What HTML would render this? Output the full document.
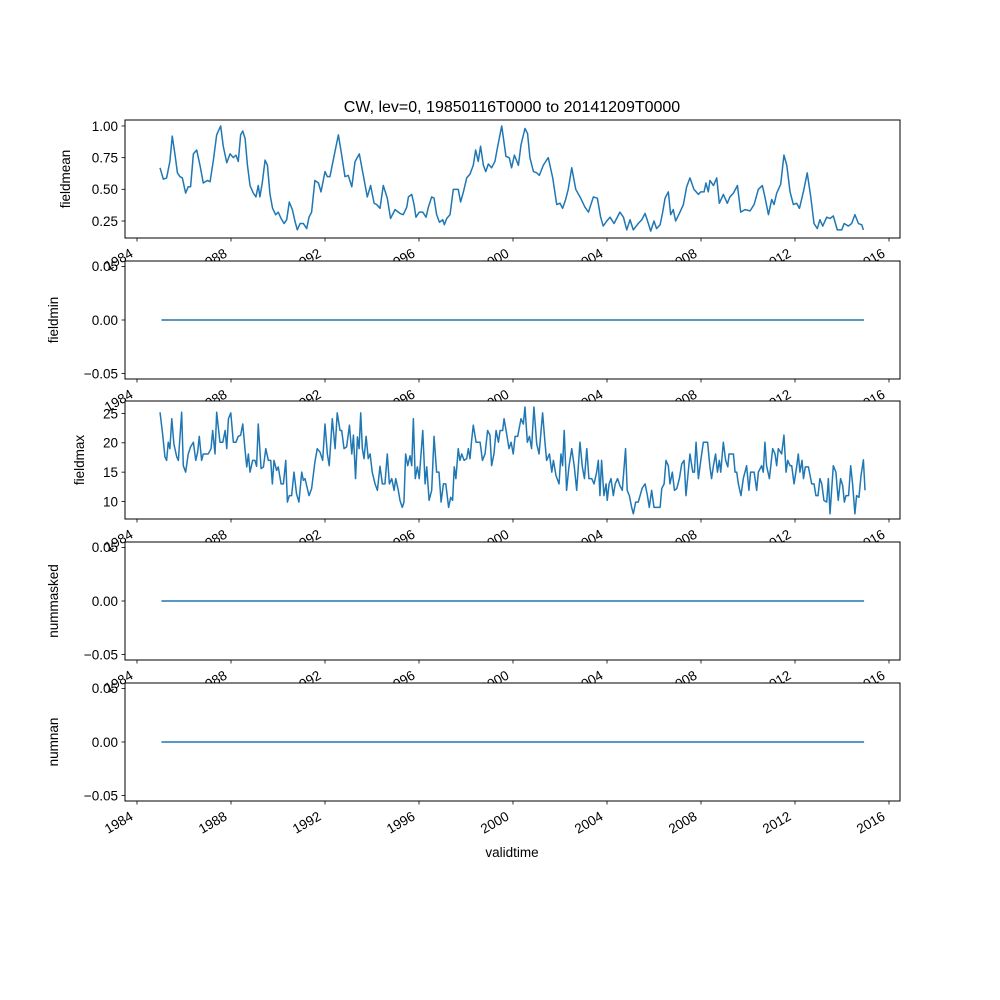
<!DOCTYPE html>
<html><head><meta charset="utf-8"><style>
html,body{margin:0;padding:0;background:#fff;}
svg{display:block;font-family:"Liberation Sans","DejaVu Sans",sans-serif;}
</style></head><body>
<svg id="fig" width="1000" height="1000" viewBox="0 0 1000 1000">
<rect width="1000" height="1000" fill="#fff"/>
<text x="512" y="112" font-size="16" text-anchor="middle">CW, lev=0, 19850116T0000 to 20141209T0000</text>
<text x="512" y="857" font-size="13.5" text-anchor="middle">validtime</text>
</svg>
<script>
// ---- data ----
const meanDates=[1984.98,1985.12,1985.26,1985.40,1985.50,1985.62,1985.72,1985.83,1985.93,1986.07,1986.18,1986.28,1986.40,1986.54,1986.68,1986.82,1986.99,1987.11,1987.25,1987.39,1987.56,1987.67,1987.82,1987.96,1988.10,1988.21,1988.31,1988.41,1988.50,1988.60,1988.70,1988.81,1988.95,1989.06,1989.16,1989.23,1989.33,1989.45,1989.55,1989.66,1989.77,1989.90,1990.01,1990.13,1990.26,1990.37,1990.48,1990.61,1990.72,1990.82,1990.94,1991.08,1991.22,1991.32,1991.43,1991.57,1991.72,1991.83,1992.00,1992.10,1992.21,1992.35,1992.57,1992.71,1992.85,1992.99,1993.14,1993.28,1993.46,1993.63,1993.80,1993.94,1994.09,1994.20,1994.34,1994.48,1994.65,1994.79,1994.98,1995.19,1995.33,1995.48,1995.55,1995.69,1995.79,1995.87,1996.01,1996.16,1996.30,1996.40,1996.54,1996.64,1996.75,1996.87,1997.01,1997.08,1997.18,1997.32,1997.46,1997.67,1997.77,1997.89,1998.03,1998.17,1998.31,1998.41,1998.52,1998.62,1998.74,1998.84,1998.95,1999.09,1999.23,1999.33,1999.52,1999.70,1999.84,1999.94,2000.06,2000.23,2000.34,2000.51,2000.62,2000.72,2000.87,2001.01,2001.12,2001.29,2001.50,2001.69,2001.86,2002.00,2002.11,2002.24,2002.35,2002.50,2002.67,2002.88,2003.06,2003.21,2003.42,2003.59,2003.73,2003.84,2003.99,2004.13,2004.30,2004.55,2004.70,2004.84,2004.98,2005.12,2005.33,2005.48,2005.62,2005.76,2005.86,2006.00,2006.11,2006.26,2006.36,2006.47,2006.61,2006.71,2006.82,2006.92,2007.08,2007.25,2007.39,2007.53,2007.70,2007.89,2007.99,2008.13,2008.21,2008.31,2008.38,2008.53,2008.67,2008.78,2008.95,2009.12,2009.23,2009.38,2009.55,2009.69,2009.87,2010.09,2010.26,2010.44,2010.61,2010.72,2010.87,2011.01,2011.11,2011.22,2011.39,2011.53,2011.65,2011.79,2011.93,2012.07,2012.19,2012.28,2012.38,2012.52,2012.67,2012.81,2012.95,2013.06,2013.18,2013.35,2013.49,2013.63,2013.80,2013.99,2014.09,2014.27,2014.41,2014.55,2014.70,2014.84,2014.91];
const meanValues=[0.67,0.58,0.59,0.72,0.92,0.77,0.63,0.60,0.59,0.47,0.52,0.52,0.78,0.81,0.69,0.55,0.57,0.56,0.73,0.93,1.00,0.84,0.71,0.78,0.75,0.77,0.72,0.93,0.96,0.90,0.69,0.53,0.47,0.44,0.53,0.44,0.55,0.73,0.69,0.46,0.35,0.30,0.32,0.27,0.23,0.26,0.40,0.34,0.25,0.18,0.23,0.23,0.19,0.28,0.32,0.57,0.55,0.48,0.64,0.60,0.60,0.73,0.93,0.77,0.60,0.61,0.52,0.72,0.78,0.61,0.44,0.53,0.39,0.38,0.35,0.53,0.43,0.27,0.34,0.31,0.30,0.36,0.44,0.46,0.38,0.28,0.32,0.32,0.28,0.36,0.44,0.43,0.30,0.24,0.26,0.22,0.27,0.30,0.50,0.50,0.40,0.48,0.59,0.62,0.69,0.81,0.72,0.84,0.69,0.64,0.70,0.67,0.72,0.82,1.00,0.76,0.75,0.67,0.77,0.69,0.85,0.98,0.94,0.75,0.64,0.63,0.61,0.69,0.75,0.59,0.38,0.39,0.35,0.42,0.50,0.67,0.50,0.43,0.36,0.32,0.44,0.43,0.28,0.21,0.25,0.28,0.23,0.32,0.28,0.18,0.26,0.18,0.23,0.26,0.31,0.23,0.17,0.25,0.19,0.22,0.31,0.43,0.48,0.30,0.34,0.25,0.31,0.38,0.52,0.59,0.50,0.46,0.48,0.48,0.55,0.48,0.57,0.53,0.59,0.39,0.46,0.39,0.44,0.47,0.53,0.32,0.34,0.33,0.38,0.50,0.53,0.44,0.30,0.42,0.38,0.47,0.54,0.77,0.69,0.48,0.38,0.39,0.35,0.42,0.50,0.63,0.44,0.23,0.19,0.26,0.21,0.28,0.27,0.29,0.18,0.18,0.23,0.21,0.23,0.30,0.23,0.22,0.18];
const maxDates=[1984.98,1985.09,1985.19,1985.26,1985.33,1985.40,1985.48,1985.57,1985.69,1985.76,1985.90,1985.97,1986.07,1986.18,1986.28,1986.40,1986.50,1986.58,1986.65,1986.75,1986.82,1987.03,1987.15,1987.22,1987.32,1987.39,1987.53,1987.65,1987.75,1987.82,1987.89,1987.99,1988.10,1988.21,1988.31,1988.41,1988.50,1988.60,1988.67,1988.74,1988.81,1988.92,1989.02,1989.09,1989.16,1989.28,1989.38,1989.48,1989.59,1989.69,1989.76,1989.83,1989.94,1990.01,1990.13,1990.23,1990.33,1990.40,1990.48,1990.58,1990.68,1990.79,1990.89,1991.01,1991.08,1991.15,1991.22,1991.32,1991.43,1991.57,1991.67,1991.79,1991.90,1992.00,1992.10,1992.18,1992.31,1992.43,1992.52,1992.64,1992.71,1992.81,1992.92,1993.04,1993.14,1993.21,1993.30,1993.38,1993.45,1993.52,1993.59,1993.66,1993.75,1993.84,1993.92,1994.01,1994.13,1994.23,1994.34,1994.44,1994.55,1994.65,1994.74,1994.84,1994.94,1995.01,1995.12,1995.19,1995.29,1995.36,1995.43,1995.52,1995.62,1995.69,1995.76,1995.84,1995.93,1996.01,1996.16,1996.26,1996.33,1996.43,1996.54,1996.64,1996.75,1996.85,1996.94,1997.04,1997.14,1997.26,1997.35,1997.43,1997.50,1997.57,1997.67,1997.74,1997.82,1997.92,1998.03,1998.10,1998.17,1998.24,1998.31,1998.43,1998.60,1998.70,1998.81,1998.92,1999.02,1999.09,1999.19,1999.28,1999.38,1999.45,1999.56,1999.62,1999.73,1999.83,1999.92,2000.01,2000.09,2000.20,2000.34,2000.44,2000.51,2000.61,2000.70,2000.79,2000.89,2001.01,2001.11,2001.26,2001.36,2001.43,2001.55,2001.65,2001.72,2001.83,2001.96,2002.04,2002.11,2002.18,2002.28,2002.38,2002.50,2002.61,2002.71,2002.85,2002.95,2003.04,2003.14,2003.23,2003.35,2003.45,2003.56,2003.63,2003.70,2003.77,2003.87,2003.96,2004.01,2004.09,2004.17,2004.27,2004.35,2004.45,2004.55,2004.65,2004.79,2004.86,2004.95,2005.05,2005.12,2005.22,2005.33,2005.50,2005.62,2005.72,2005.80,2005.90,2006.00,2006.26,2006.33,2006.43,2006.51,2006.61,2006.68,2006.78,2006.87,2006.97,2007.08,2007.18,2007.28,2007.36,2007.43,2007.53,2007.65,2007.72,2007.79,2007.89,2007.99,2008.10,2008.28,2008.38,2008.45,2008.53,2008.62,2008.70,2008.78,2008.84,2008.95,2009.05,2009.14,2009.19,2009.38,2009.45,2009.52,2009.59,2009.70,2009.80,2009.94,2010.04,2010.11,2010.26,2010.37,2010.44,2010.58,2010.65,2010.72,2010.79,2010.91,2011.05,2011.15,2011.22,2011.29,2011.43,2011.53,2011.62,2011.69,2011.79,2011.86,2011.96,2012.07,2012.14,2012.21,2012.30,2012.36,2012.44,2012.57,2012.71,2012.81,2012.89,2012.98,2013.06,2013.14,2013.23,2013.35,2013.42,2013.49,2013.63,2013.74,2013.84,2013.94,2014.03,2014.10,2014.17,2014.28,2014.37,2014.45,2014.55,2014.62,2014.72,2014.81,2014.91,2014.98];
const maxValues=[25.2,21.5,17.6,17.0,20.1,19.0,24.1,19.8,17.6,17.0,25.2,16.1,15.0,18.1,19.3,20.1,17.0,18.4,21.1,17.0,18.1,18.1,19.0,22.1,18.1,25.2,20.1,20.1,22.1,19.0,24.1,25.1,20.1,20.1,21.1,21.3,23.2,18.7,15.9,18.1,15.0,17.0,17.0,16.0,23.2,15.6,15.9,19.0,17.0,17.0,13.0,17.0,15.3,15.9,13.0,13.0,17.0,9.9,11.0,11.0,15.0,11.3,9.9,15.0,13.6,13.9,12.7,11.0,12.2,16.7,19.0,18.4,17.0,23.2,18.1,16.1,24.1,19.0,25.1,22.1,22.1,19.0,19.3,23.0,18.1,21.3,13.9,21.0,19.0,25.1,19.0,17.3,21.1,17.3,18.1,15.0,13.0,11.9,16.0,13.0,13.0,18.1,13.0,13.9,11.9,13.9,11.9,10.2,9.0,9.9,18.1,16.1,17.8,16.1,24.1,13.9,15.9,13.9,22.1,13.0,15.9,10.2,11.9,21.1,15.0,15.0,9.9,13.0,13.0,9.0,10.7,10.2,15.9,13.9,19.0,17.0,18.1,17.0,17.3,19.0,17.3,20.4,23.0,20.1,20.1,17.0,18.1,22.1,21.3,16.1,18.1,22.1,20.1,22.1,22.1,24.1,21.5,19.0,20.1,18.1,21.1,21.1,24.1,23.2,26.1,20.1,21.1,19.0,26.1,19.8,18.1,25.1,20.1,17.0,18.1,15.0,17.0,14.4,13.0,18.1,16.1,22.1,11.9,15.9,19.0,15.9,11.9,20.1,15.9,13.9,19.0,13.9,13.9,13.0,15.0,17.0,11.0,17.0,11.0,13.0,10.2,13.0,13.9,11.0,13.0,13.9,12.7,11.9,19.0,11.9,11.0,9.0,7.9,9.9,9.9,12.3,13.0,11.0,9.0,11.9,9.0,9.0,12.2,13.0,17.0,16.1,13.0,15.0,11.9,12.2,13.9,16.4,17.0,11.0,13.9,18.1,15.0,15.0,20.1,13.9,17.0,20.1,20.1,15.9,13.9,16.1,18.1,15.0,17.0,15.0,20.1,17.0,15.9,18.1,18.1,15.0,15.0,13.0,11.0,13.9,16.1,11.9,15.0,15.0,11.9,15.0,16.1,15.0,20.1,16.1,13.9,19.0,18.1,16.1,19.0,18.1,21.3,15.0,17.0,16.1,16.1,13.0,15.9,18.1,15.0,17.0,13.9,15.9,15.9,13.0,13.0,11.0,11.0,13.9,13.0,10.2,9.9,13.9,7.9,16.1,15.0,10.2,13.9,12.7,9.9,11.0,11.0,16.1,13.0,7.9,11.0,10.7,14.4,17.1,11.9];
const zeroDates=[1985.04,2014.94];
const zeroValues=[0,0];
const xTickYears=[1984,1988,1992,1996,2000,2004,2008,2012,2016];
const meanTicks=[0.25,0.50,0.75,1.00];
const meanTickLabels=["0.25","0.50","0.75","1.00"];
const maxTicks=[10,15,20,25];
const maxTickLabels=["10","15","20","25"];
const zeroTicks=[-0.05,0,0.05];
const zeroTickLabels=["\u22120.05","0.00","0.05"];

// ---- layout ----
const NS="http://www.w3.org/2000/svg";
const svg=document.getElementById('fig');
const L=125,R=900,H=118;
function xs(t){return 137+(t-1984)*23.5;}
function mk(tag,attrs,parent){const e=document.createElementNS(NS,tag);for(const k in attrs)e.setAttribute(k,attrs[k]);(parent||svg).appendChild(e);return e;}

const panels=[
 {name:'fieldmean',top:120,dates:meanDates,vals:meanValues,ticks:meanTicks,labels:meanTickLabels,y0:0.25,py0:221,scale:126.7,titleX:70},
 {name:'fieldmin',top:261,dates:zeroDates,vals:zeroValues,ticks:zeroTicks,labels:zeroTickLabels,y0:0,py0:320,scale:1072,titleX:58},
 {name:'fieldmax',top:401,dates:maxDates,vals:maxValues,ticks:maxTicks,labels:maxTickLabels,y0:10,py0:501.5,scale:5.87,titleX:84},
 {name:'nummasked',top:542,dates:zeroDates,vals:zeroValues,ticks:zeroTicks,labels:zeroTickLabels,y0:0,py0:601,scale:1072,titleX:58},
 {name:'numnan',top:683,dates:zeroDates,vals:zeroValues,ticks:zeroTicks,labels:zeroTickLabels,y0:0,py0:742,scale:1072,titleX:58}
];

panels.forEach(p=>{
  const g=mk('g',{});
  
  
  const bg=mk('rect',{x:L,y:p.top,width:R-L,height:H,fill:'#fff'},g);
  
  
  const ys=v=>p.py0-(v-p.y0)*p.scale;
  let d='';
  p.dates.forEach((t,i)=>{d+=(i?'L':'M')+xs(t).toFixed(2)+','+ys(p.vals[i]).toFixed(2);});
  const line=mk('path',{d:d,fill:'none',stroke:'#1f77b4','stroke-width':1.5,'stroke-linejoin':'round'},g);
  
  
  const fr=mk('rect',{x:L,y:p.top,width:R-L,height:H,fill:'none',stroke:'#000','stroke-width':1},g);
  
  
  p.ticks.forEach((v,i)=>{
    const y=ys(v);
    const tk=mk('line',{x1:L-3.5,x2:L,y1:y,y2:y,stroke:'#000','stroke-width':0.8},g);
    
    
    const tl=mk('text',{x:L-7,y:y+4.8,'font-size':13.5,'text-anchor':'end'},g);
    tl.textContent=p.labels[i];
    
    
  });
  const yt=mk('text',{x:p.titleX,y:p.top+H/2,'font-size':13.5,'text-anchor':'middle',transform:'rotate(-90 '+p.titleX+' '+(p.top+H/2)+')'},g);
  yt.textContent=p.name;
  
  
  const bottom=p.top+H;
  xTickYears.forEach(yr=>{
    const x=xs(yr);
    const tk=mk('line',{x1:x,x2:x,y1:bottom,y2:bottom+3.5,stroke:'#000','stroke-width':0.8},g);
    
    
    const ox=x-3,oy=bottom+18;
    const tl=mk('text',{x:ox,y:oy,'font-size':13.5,'text-anchor':'end',transform:'rotate(-30 '+ox+' '+oy+')'},g);
    tl.textContent=String(yr);
    
    
  });
});
</script>
</body></html>
